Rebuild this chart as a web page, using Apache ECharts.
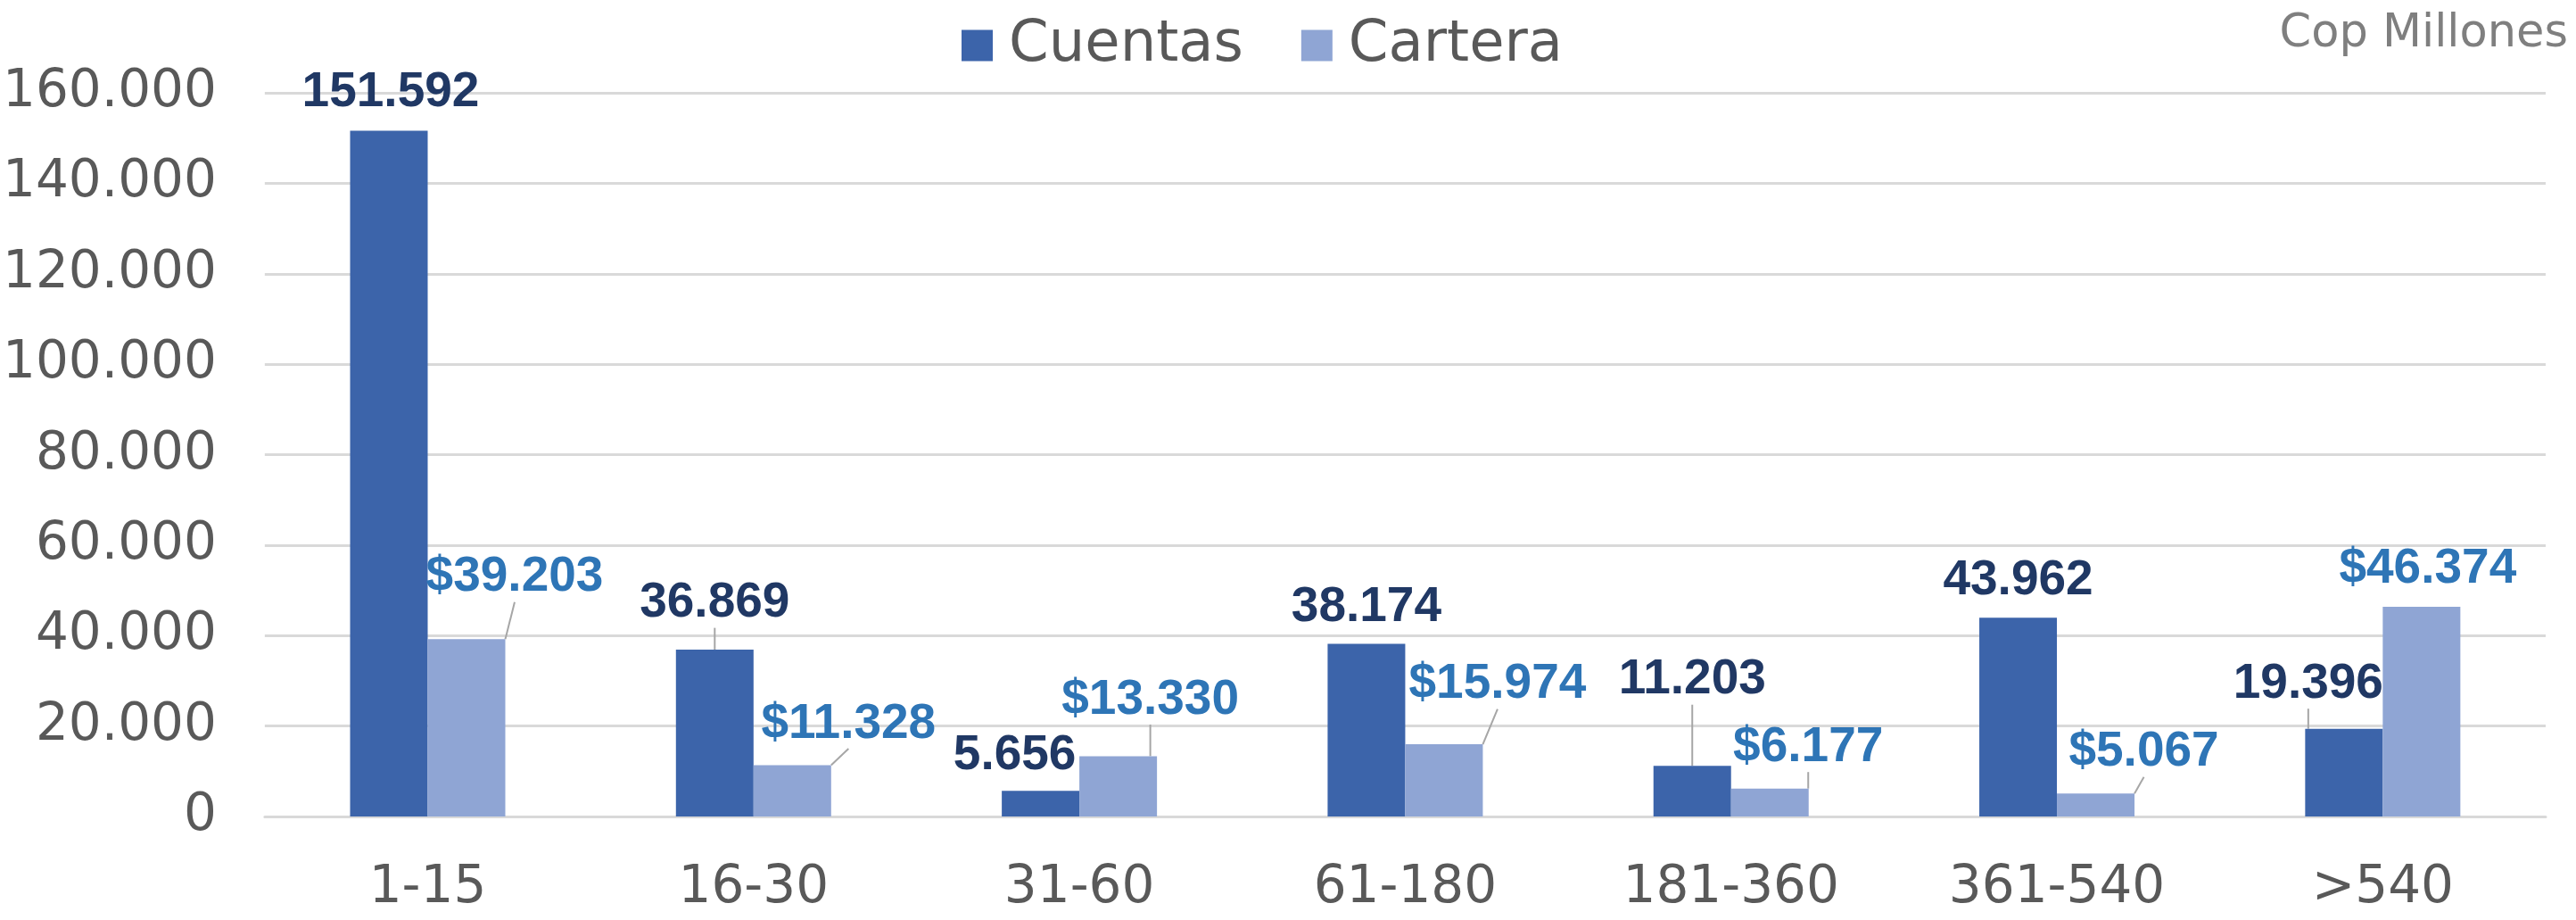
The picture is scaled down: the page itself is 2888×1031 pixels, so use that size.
<!DOCTYPE html>
<html>
<head>
<meta charset="utf-8">
<title>Cuentas y Cartera</title>
<script src="https://cdn.jsdelivr.net/npm/echarts@6/dist/echarts.min.js"></script>
<style>
    html, body { margin: 0; padding: 0; background: #fff; }
    #chart { width: 2888px; height: 1031px; }
</style>
</head>
<body>
<div id="chart"></div>
<script>
// datos
var categorias = ['1-15', '16-30', '31-60', '61-180', '181-360', '361-540', '>540'];
var cuentas = [151592, 36869, 5656, 38174, 11203, 43962, 19396];
var cartera = [39203, 11328, 13330, 15974, 6177, 5067, 46374];
var ejeY = [0, 20000, 40000, 60000, 80000, 100000, 120000, 140000, 160000];

// desplazamiento de etiquetas (px, centro de la etiqueta respecto al tope de la barra)
var offCuentas = [[2, -43], [0, -52], [-29, -40], [0, -41], [0, -96], [0, -41], [-40, -50]];
var offCartera = [[54, -69], [63, -46], [36, -63], [60, -67], [43, -46], [54, -46], [7, -42]];
var lineaCuentas = [false, true, false, false, true, false, true];
var lineaCartera = [true, true, true, true, true, true, false];

function fmt(v) {
    return String(v).replace(/\B(?=(\d{3})+(?!\d))/g, '.');
}

function layoutFn(off) {
    return function(params) {
        var o = off[params.dataIndex];
        return {
            x: params.rect.x + params.rect.width / 2 + o[0],
            y: params.rect.y + o[1],
            align: 'center',
            verticalAlign: 'middle'
        };
    };
}

window.onload = function() {
    var chart = echarts.init(document.getElementById('chart'));
    var txt = 'DejaVu Sans';
    chart.setOption({
        animation: false,
        title: {
            text: 'Cop Millones',
            right: 4,
            top: 8,
            textStyle: {
                fontFamily: txt,
                fontWeight: 'normal',
                fontSize: 51,
                color: '#7f7f7f'
            }
        },
        legend: {
            left: 1073,
            top: 14,
            icon: 'rect',
            itemWidth: 35,
            itemHeight: 35,
            itemGap: 65,
            textStyle: {
                fontFamily: txt,
                fontSize: 64,
                color: '#595959',
                padding: [0, 0, 0, 13]
            },
            data: ['Cuentas', 'Cartera']
        },
        grid: {
            left: 289,
            right: 34,
            top: 104,
            bottom: 116
        },
        xAxis: {
            type: 'category',
            data: categorias,
            axisTick: { show: false },
            axisLine: { lineStyle: { color: '#d9d9d9', width: 3 } },
            axisLabel: {
                margin: 52,
                fontFamily: txt,
                fontSize: 58,
                color: '#595959'
            }
        },
        yAxis: {
            type: 'value',
            min: ejeY[0],
            max: ejeY[ejeY.length - 1],
            interval: 20000,
            axisLine: { show: false },
            axisTick: { show: false },
            splitLine: { lineStyle: { color: '#d9d9d9', width: 3 } },
            axisLabel: {
                margin: 54,
                fontFamily: txt,
                fontSize: 58,
                color: '#595959',
                formatter: fmt
            }
        },
        series: [{
            name: 'Cuentas',
            type: 'bar',
            barWidth: 87,
            barGap: '0%',
            itemStyle: { color: '#3c64aa' },
            data: cuentas.map(function(v, i) {
                return { value: v, labelLine: { show: lineaCuentas[i] } };
            }),
            label: {
                show: true,
                position: 'top',
                formatter: function(p) { return fmt(p.value); },
                fontFamily: 'Liberation Sans',
                fontWeight: 'bold',
                fontSize: 55,
                lineHeight: 42,
                color: '#203864'
            },
            labelLayout: layoutFn(offCuentas),
            labelLine: {
                lineStyle: { color: '#a6a6a6', width: 2 }
            }
        }, {
            name: 'Cartera',
            type: 'bar',
            barWidth: 87,
            barGap: '0%',
            itemStyle: { color: '#8fa5d4' },
            data: cartera.map(function(v, i) {
                return { value: v, labelLine: { show: lineaCartera[i] } };
            }),
            label: {
                show: true,
                position: 'top',
                formatter: function(p) { return '$' + fmt(p.value); },
                fontFamily: 'Liberation Sans',
                fontWeight: 'bold',
                fontSize: 55,
                lineHeight: 42,
                color: '#2e75b6'
            },
            labelLayout: layoutFn(offCartera),
            labelLine: {
                lineStyle: { color: '#a6a6a6', width: 2 }
            }
        }]
    });
};
</script>
</body>
</html>
